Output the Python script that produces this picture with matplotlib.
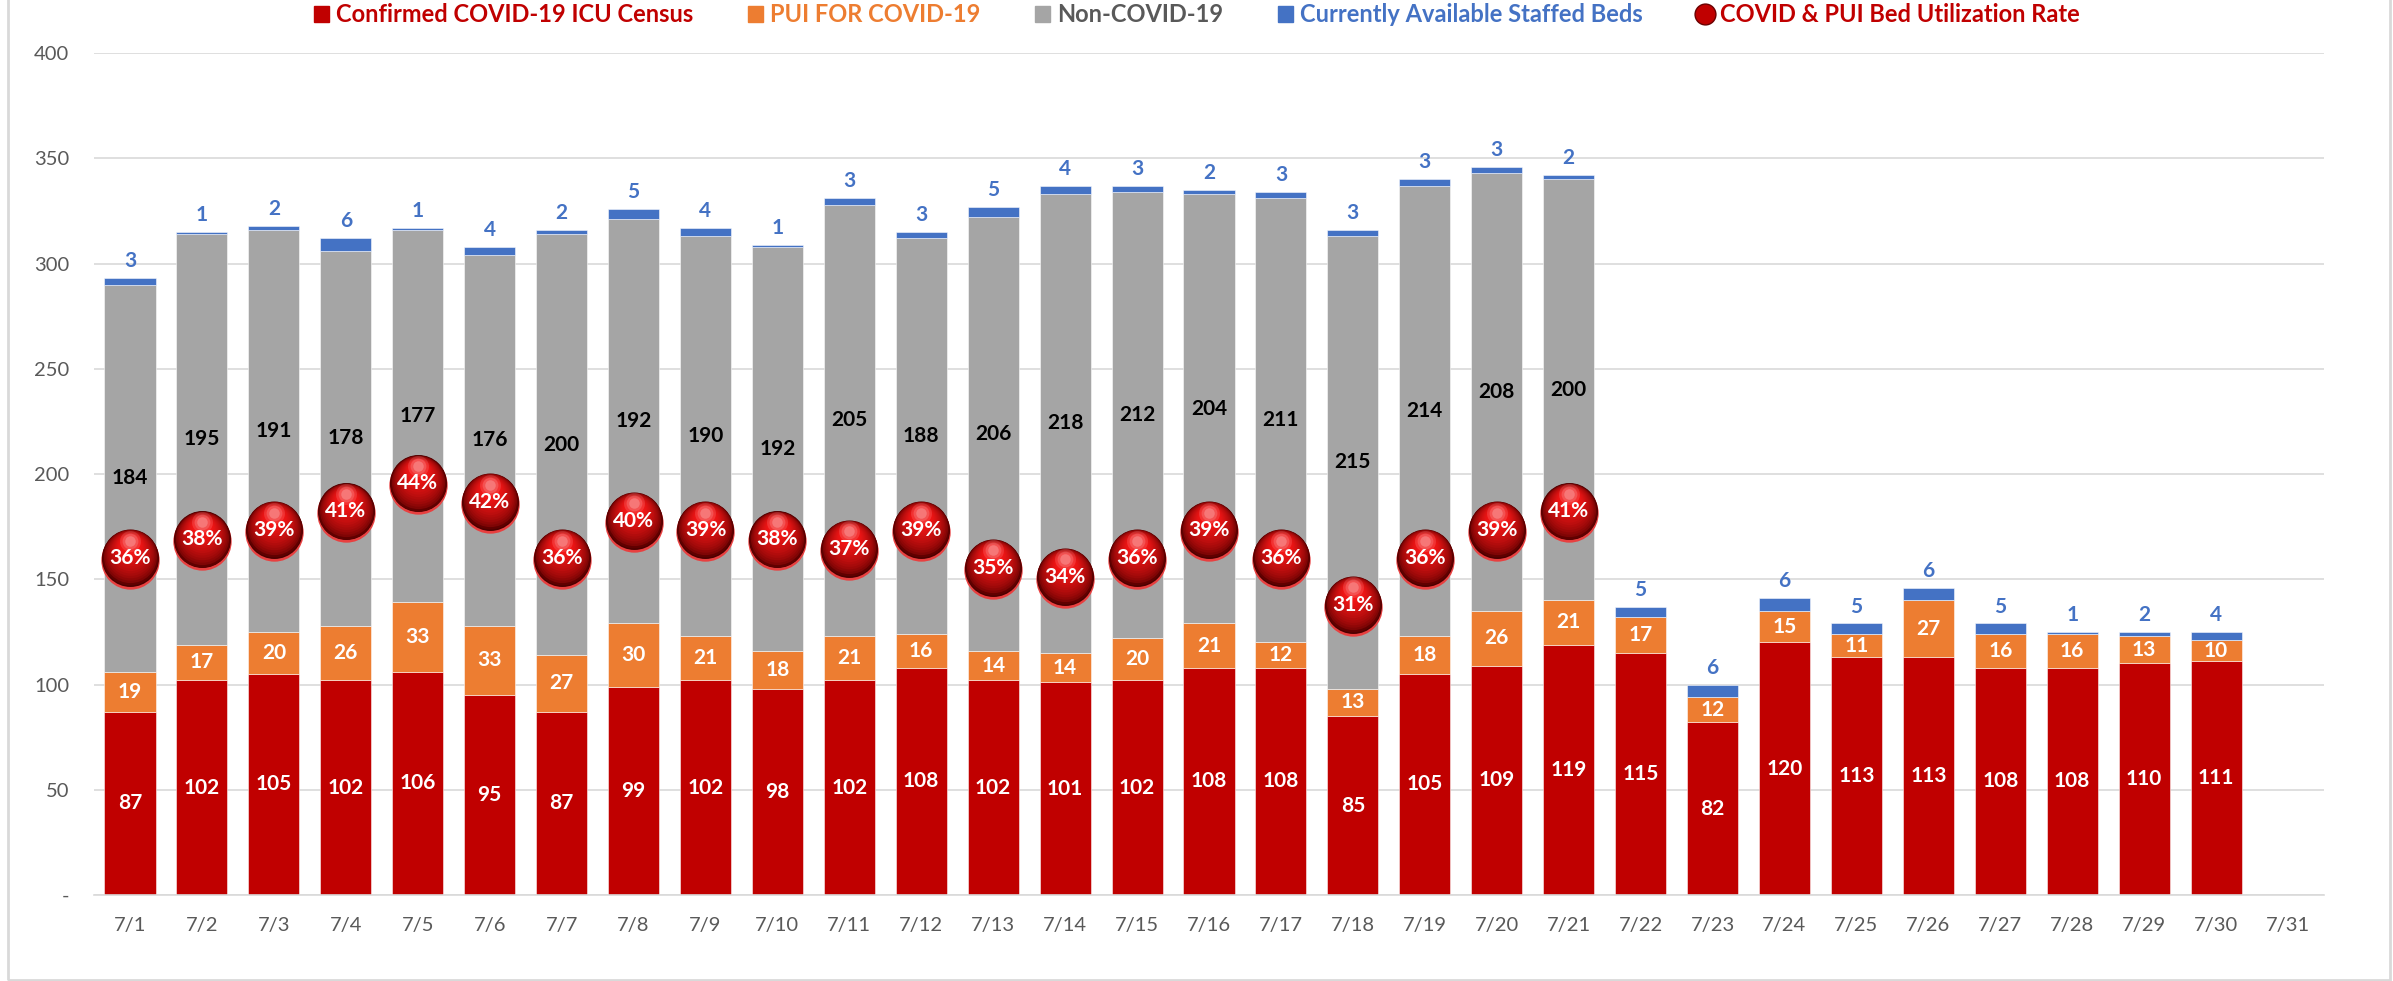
import matplotlib
matplotlib.use("Agg")
import matplotlib.pyplot as plt
import numpy as np
from matplotlib.lines import Line2D
from matplotlib.patches import Patch, Rectangle
from matplotlib.transforms import offset_copy

# ---- data ----
days = ["7/%d" % d for d in range(1, 32)]
confirmed = [87, 102, 105, 102, 106, 95, 87, 99, 102, 98, 102, 108, 102, 101, 102,
             108, 108, 85, 105, 109, 119, 115, 82, 120, 113, 113, 108, 108, 110, 111]
pui = [19, 17, 20, 26, 33, 33, 27, 30, 21, 18, 21, 16, 14, 14, 20,
       21, 12, 13, 18, 26, 21, 17, 12, 15, 11, 27, 16, 16, 13, 10]
non_covid = [184, 195, 191, 178, 177, 176, 200, 192, 190, 192, 205, 188, 206, 218, 212,
             204, 211, 215, 214, 208, 200, 0, 0, 0, 0, 0, 0, 0, 0, 0]
available = [3, 1, 2, 6, 1, 4, 2, 5, 4, 1, 3, 3, 5, 4, 3,
             2, 3, 3, 3, 3, 2, 5, 6, 6, 5, 6, 5, 1, 2, 4]
util_rate = [0.36, 0.38, 0.39, 0.41, 0.44, 0.42, 0.36, 0.40, 0.39, 0.38, 0.37,
             0.39, 0.35, 0.34, 0.36, 0.39, 0.36, 0.31, 0.36, 0.39, 0.41]

RED = "#C00000"
ORANGE = "#ED7D31"
GRAY = "#A5A5A5"
BLUE = "#4472C4"
TICK = "#595959"
GRID = "#D9D9D9"

plt.rcParams["font.family"] = ["Lato", "DejaVu Sans"]

fig = plt.figure(figsize=(23.93, 9.81), dpi=100)
ax = fig.add_axes([94 / 2393, 86 / 981, (2324 - 94) / 2393, (895 - 53) / 981])

n = len(confirmed)
x = np.arange(n)
width = 0.71
edge = (1, 1, 1, 0.6)

ax.bar(x, confirmed, width, color=RED, edgecolor=edge, linewidth=0.6, zorder=2)
bottom = np.array(confirmed)
ax.bar(x, pui, width, bottom=bottom, color=ORANGE, edgecolor=edge, linewidth=0.6, zorder=2)
bottom = bottom + np.array(pui)
ax.bar(x, non_covid, width, bottom=bottom, color=GRAY, edgecolor=edge, linewidth=0.6, zorder=2)
bottom = bottom + np.array(non_covid)
ax.bar(x, available, width, bottom=bottom, color=BLUE, edgecolor=edge, linewidth=0.6, zorder=2)
top = bottom + np.array(available)

# value labels
lab_fs = 15
for i in range(n):
    ax.text(x[i], confirmed[i] / 2, str(confirmed[i]), ha="center", va="center",
            color="white", fontsize=lab_fs, fontweight="bold", zorder=4)
    ax.text(x[i], confirmed[i] + pui[i] / 2, str(pui[i]), ha="center", va="center",
            color="white", fontsize=lab_fs, fontweight="bold", zorder=4)
    if non_covid[i] > 0:
        ax.text(x[i], confirmed[i] + pui[i] + non_covid[i] / 2, str(non_covid[i]),
                ha="center", va="center", color="black", fontsize=lab_fs,
                fontweight="bold", zorder=4)
    ax.annotate(str(available[i]), (x[i], top[i]), xytext=(0, 5), textcoords="offset points",
                ha="center", va="bottom", color=BLUE, fontsize=lab_fs, fontweight="bold",
                zorder=4)

ax.set_xlim(-0.5, len(days) - 0.5)
ax.set_ylim(0, 400)
ax.set_xticks(np.arange(len(days)))
ax.set_xticklabels(days)
ax.set_yticks(np.arange(0, 401, 50))
ax.set_yticklabels(["-"] + [str(v) for v in range(50, 401, 50)])
ax.tick_params(axis="both", length=0, labelsize=14.5, colors=TICK)
ax.tick_params(axis="y", pad=18)
ax.tick_params(axis="x", pad=16)
ax.grid(axis="y", color=GRID, linewidth=1.2, zorder=0)
ax.set_axisbelow(True)
for s in ["top", "right", "left"]:
    ax.spines[s].set_visible(False)
ax.spines["bottom"].set_color(GRID)
ax.spines["bottom"].set_linewidth(1.2)

# utilisation spheres on a hidden secondary axis (0 - 90%)
ax2 = ax.twinx()
ax2.set_ylim(0, 0.9)
ax2.set_axis_off()
xr = x[:len(util_rate)]
d = 42.0
rim = offset_copy(ax2.transData, fig=fig, x=0, y=-1.4, units="points")
ax2.scatter(xr, util_rate, s=d ** 2, color="#E84040", transform=rim, zorder=5, linewidths=0)
ax2.scatter(xr, util_rate, s=(d - 1) ** 2, color="#4A0000", zorder=5, linewidths=0)
dark = np.array([0x60, 0x00, 0x00]) / 255
bright = np.array([0xF2, 0x16, 0x16]) / 255
layers = 14
for k in range(layers):
    t = k / (layers - 1)
    f = 0.96 - 0.62 * t
    dy = (1 - f) * d * 0.36
    col = dark + (bright - dark) * t ** 0.6
    tr = offset_copy(ax2.transData, fig=fig, x=0, y=dy, units="points")
    ax2.scatter(xr, util_rate, s=(d * f) ** 2, color=col, transform=tr, zorder=6, linewidths=0)
for f, a in [(0.36, 0.12), (0.27, 0.16), (0.18, 0.22)]:
    hl = offset_copy(ax2.transData, fig=fig, x=0, y=d * 0.3, units="points")
    ax2.scatter(xr, util_rate, s=(d * f) ** 2, color="white", alpha=a, transform=hl,
                zorder=7, linewidths=0)
for xi, r in zip(xr, util_rate):
    ax2.text(xi, r, "%d%%" % round(r * 100), ha="center", va="center", color="white",
             fontsize=15, fontweight="bold", zorder=8)

# legend
handles = [
    Patch(color=RED),
    Patch(color=ORANGE),
    Patch(color=GRAY),
    Patch(color=BLUE),
    Line2D([], [], marker="o", linestyle="", markersize=15, markerfacecolor="#C00000",
           markeredgecolor="#6A0000"),
]
labels = ["Confirmed COVID-19 ICU Census", "PUI FOR COVID-19", "Non-COVID-19",
          "Currently Available Staffed Beds", "COVID & PUI Bed Utilization Rate"]
fig.legend(handles, labels, loc="center", bbox_to_anchor=(0.5, 0.985), ncol=5,
           frameon=False, handlelength=0.65, handleheight=0.65, handletextpad=0.3,
           columnspacing=2.3, prop={"size": 17, "weight": "bold"},
           labelcolor=[RED, ORANGE, TICK, BLUE, RED])

# chart frame
fig.add_artist(Rectangle((8 / 2393, 1 / 981), (2390 - 8) / 2393, 1.2, transform=fig.transFigure,
                         fill=False, edgecolor=GRID, linewidth=2, clip_on=False))

fig.savefig("out.png", dpi=100)
